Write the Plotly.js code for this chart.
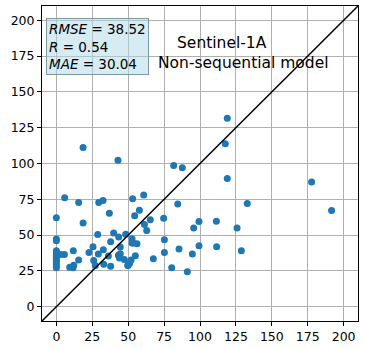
<!DOCTYPE html>
<html>
<head>
<meta charset="utf-8">
<script src="https://cdn.plot.ly/plotly-3.0.1.min.js"></script>
<style>
  body { margin: 0; background: #fff; }
  #chart { width: 365px; height: 349px; }
</style>
</head>
<body>
<div id="chart"></div>
<script>
var obs = [119, 117.6, 18.6, 42.9, 81.7, 87.7, 119, 177.7, 191.6, 5.8,
  15.5, 29.5, 32.5, 53.1, 60.8, 84.5, 132.9, 0, 36.9, 57.8,
  54.5, 65.4, 74.7, 99.3, 111.4, 18.6, 61.3, 62.9, 95.6, 125.8,
  28.8, 39.9, 48.3, 43.4, 52.7, 0, 0, 75.2, 37.8, 52.7,
  56.1, 44.5, 25.5, 99.3, 111.6, 85.4, 32.7, 11.8, 128.8, 22.7,
  29.2, 75.2, 5.6, 3.0, 94.7, 43.2, 55, 36.2, 15.5, 26.0,
  43.9, 47.3, 52.0, 67.5, 33.0, 12.1, 27.1, 37.8, 49.7, 9.3,
  11.6, 80.3, 91.2, 51.0, 50.0, 0, 0, 0, 0, 0,
  0, 0, 0, 0, 44.5, 53.5];
var pred = [131.6, 113.8, 111.2, 102.3, 98.6, 97.0, 89.5, 87.1, 67.2, 76.1,
  72.8, 72.8, 74.2, 75.4, 78.0, 71.7, 72.1, 62.1, 65.3, 67.4,
  63.5, 60.7, 61.8, 59.5, 59.7, 58.5, 57.4, 53.2, 55.0, 55.0,
  50.4, 51.5, 50.6, 48.7, 47.5, 47.3, 46.1, 46.8, 45.4, 44.5,
  44.0, 41.7, 41.9, 42.6, 41.9, 40.3, 39.8, 39.1, 39.1, 37.9,
  36.8, 37.9, 36.5, 36.5, 36.8, 35.9, 35.6, 35.4, 32.6, 32.3,
  34.0, 33.0, 32.6, 33.5, 29.7, 29.0, 28.8, 28.3, 28.8, 27.6,
  27.2, 27.2, 24.4, 30.4, 29.0, 27.2, 28.6, 30.0, 31.5, 33.0,
  34.5, 36.0, 37.5, 39.0, 37.0, 44.5];
var oneToOne = [-10, 210];
var tickVals = [0, 25, 50, 75, 100, 125, 150, 175, 200];
var statLines = ['<i>RMSE</i> = 38.52', '<i>R</i> = 0.54', '<i>MAE</i> = 30.04'];
var titleLines = ['Sentinel-1A', 'Non-sequential model'];

var points = {
  x: obs, y: pred,
  type: 'scatter', mode: 'markers',
  marker: { color: '#1f77b4', size: 7 },
  hoverinfo: 'none'
};
var diag = {
  x: oneToOne, y: oneToOne,
  type: 'scatter', mode: 'lines',
  line: { color: 'black', width: 1.5 },
  hoverinfo: 'none'
};

var ax = {
  range: [-10, 210],
  tickvals: tickVals,
  ticks: 'outside', ticklen: 4, tickcolor: 'black',
  showgrid: true, gridcolor: '#b0b0b0', gridwidth: 1,
  zeroline: false,
  showline: true, linecolor: 'black', linewidth: 1, mirror: true,
  tickfont: { family: 'DejaVu Sans', size: 12.5, color: 'black' }
};

var layout = {
  width: 365, height: 349,
  margin: { l: 42, r: 7, t: 6, b: 28 },
  paper_bgcolor: 'white', plot_bgcolor: 'white',
  showlegend: false,
  xaxis: ax,
  yaxis: Object.assign({}, ax),
  annotations: [
    {
      xref: 'paper', yref: 'paper', x: 0.013, y: 0.962,
      xanchor: 'left', yanchor: 'top', align: 'left', showarrow: false,
      text: statLines.join('<br>'),
      font: { family: 'DejaVu Sans', size: 13.5, color: 'black' },
      bgcolor: 'rgba(173,216,230,0.5)', bordercolor: '#7a9aa5', borderwidth: 1, borderpad: 2
    },
    {
      xref: 'paper', yref: 'paper', x: 0.570, y: 0.883,
      xanchor: 'center', yanchor: 'middle', showarrow: false,
      text: titleLines[0],
      font: { family: 'DejaVu Sans', size: 15.5, color: 'black' }
    },
    {
      xref: 'paper', yref: 'paper', x: 0.639, y: 0.819,
      xanchor: 'center', yanchor: 'middle', showarrow: false,
      text: titleLines[1],
      font: { family: 'DejaVu Sans', size: 15.5, color: 'black' }
    }
  ]
};

Plotly.newPlot('chart', [points, diag], layout, { displayModeBar: false, staticPlot: true });
</script>
</body>
</html>
